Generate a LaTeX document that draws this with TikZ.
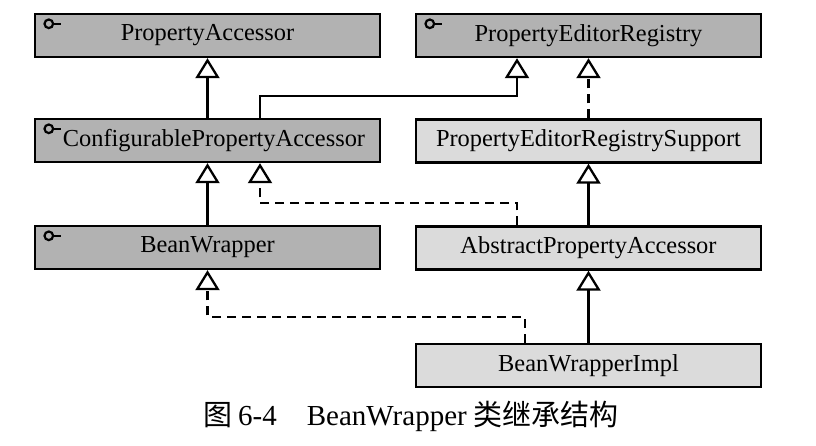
\documentclass[tikz,border=0pt]{standalone}
\usepackage{fontspec}
\setmainfont{Liberation Serif}
\newfontfamily\cjk{Noto Sans CJK SC}
\usetikzlibrary{arrows.meta}
\definecolor{ifacegray}{gray}{0.70}
\definecolor{classgray}{gray}{0.86}
\tikzset{
  box/.style={draw=black, line width=2.4pt, minimum width=345pt, minimum height=43pt, inner sep=0pt, font=\fontsize{24.4}{28}\selectfont},
  iface/.style={box, fill=ifacegray},
  cls/.style={box, fill=classgray},
  inh/.style={line width=2.3pt, -{Triangle[open, length=20pt, width=24pt, line width=2.3pt]}},
  dsh/.style={inh, dash pattern=on 9pt off 6pt},
  icon/.style={line width=2.2pt}
}
\begin{document}
\begin{tikzpicture}[x=1pt,y=-1pt]
\useasboundingbox (0,0) rectangle (816,446);
% boxes
\node[iface] (pa)   at (207.5,35.5)  {PropertyAccessor};
\node[iface] (per)  at (588.5,35.5)  {PropertyEditorRegistry};
\node[iface] (cpa)  at (207.5,140.5) {};
\node[cls]   (pers) at (588.5,141)   {PropertyEditorRegistrySupport};
\node[iface] (bw)   at (207.5,247.5) {BeanWrapper};
\node[cls]   (apa)  at (588.5,248)   {AbstractPropertyAccessor};
\node[cls]   (bwi)  at (588.5,365.5) {BeanWrapperImpl};
\node[font=\fontsize{24.4}{28}\selectfont, inner sep=0pt] (cpat) at (214,140.5) {ConfigurablePropertyAccessor};
% interface icons
\foreach \n in {pa,per,cpa,bw}{
  \draw[icon] ([xshift=15pt,yshift=-11pt]\n.north west) circle (4.3pt);
  \draw[icon] ([xshift=19.3pt,yshift=-11pt]\n.north west) -- ([xshift=27pt,yshift=-11pt]\n.north west);
}
% connectors
\draw[inh] (cpa.north) -- (pa.south);
\draw[inh] ([xshift=52.5pt]cpa.north) -- ++(0,-22) -| ([xshift=-71.5pt]per.south);
\draw[dsh] (pers.north) -- (per.south);
\draw[inh] (bw.north) -- (cpa.south);
\draw[dsh] ([xshift=-71.5pt]apa.north) -- ++(0,-22) -| ([xshift=52.5pt]cpa.south);
\draw[inh] (apa.north) -- (pers.south);
\draw[inh] (bwi.north) -- (apa.south);
\draw[dsh] ([xshift=-63.5pt]bwi.north) -- ++(0,-26) -| (bw.south);
% caption
\node[anchor=base, inner sep=0pt, font=\fontsize{29}{34}\selectfont] (cap) at (411,425)
  {{\cjk 图}\hspace{6pt}6-4\hspace{30pt}BeanWrapper\hspace{7pt}{\cjk 类继承结构}};
\end{tikzpicture}
\end{document}
